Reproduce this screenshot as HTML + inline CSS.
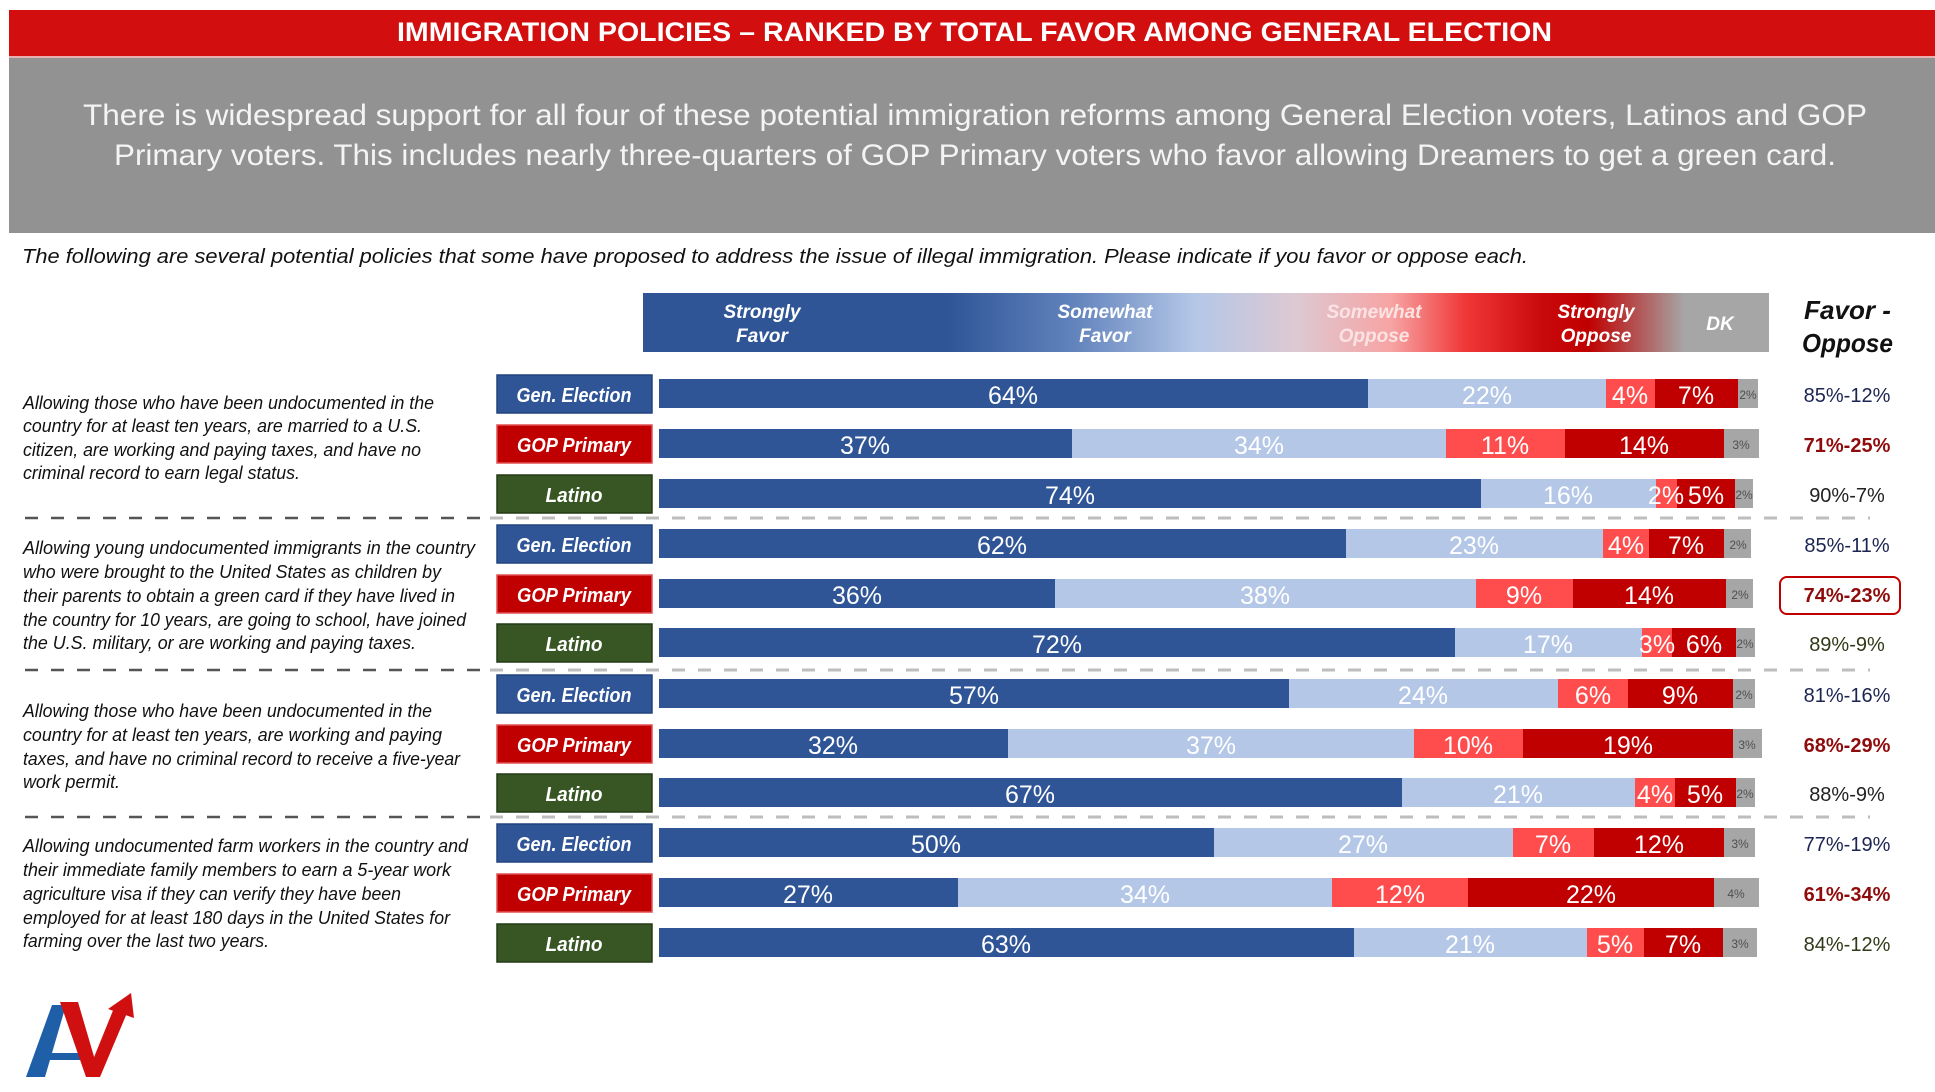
<!DOCTYPE html>
<html>
<head>
<meta charset="utf-8">
<style>
html,body{margin:0;padding:0;background:#fff;}
svg{display:block;}
text{font-family:"Liberation Sans",sans-serif;}
</style>
</head>
<body>
<svg width="1935" height="1092" viewBox="0 0 1935 1092" xmlns="http://www.w3.org/2000/svg">
<defs>
<linearGradient id="hg" x1="0" x2="1" y1="0" y2="0">
<stop offset="0" stop-color="#2f5597"/>
<stop offset="0.27" stop-color="#2f5597"/>
<stop offset="0.385" stop-color="#6384bd"/>
<stop offset="0.49" stop-color="#b4c7e7"/>
<stop offset="0.58" stop-color="#ddc9d2"/>
<stop offset="0.665" stop-color="#f7a3a3"/>
<stop offset="0.73" stop-color="#f03838"/>
<stop offset="0.80" stop-color="#c8080a"/>
<stop offset="0.84" stop-color="#c00000"/>
<stop offset="0.925" stop-color="#a6a6a6"/>
<stop offset="1" stop-color="#a6a6a6"/>
</linearGradient>
</defs>

<rect x="0" y="0" width="1935" height="1092" fill="#fff"/>

<!-- Title bar -->
<rect x="9" y="10" width="1926" height="46" fill="#d30e0e"/>
<text x="397" y="41" font-size="27" font-weight="bold" fill="#fff" textLength="1155" lengthAdjust="spacingAndGlyphs">IMMIGRATION POLICIES – RANKED BY TOTAL FAVOR AMONG GENERAL ELECTION</text>

<!-- Gray summary box -->
<rect x="9" y="56" width="1926" height="177" fill="#939292"/>
<rect x="9" y="56" width="1926" height="2" fill="#e8b0b0"/>
<text x="83" y="125" font-size="30" fill="#f4f4f4" textLength="1784" lengthAdjust="spacingAndGlyphs">There is widespread support for all four of these potential immigration reforms among General Election voters, Latinos and GOP</text>
<text x="114" y="165" font-size="30" fill="#f4f4f4" textLength="1722" lengthAdjust="spacingAndGlyphs">Primary voters.  This includes nearly three-quarters of GOP Primary voters who favor allowing Dreamers to get a green card.</text>

<!-- Question -->
<text x="22" y="263" font-size="20" font-style="italic" fill="#111" textLength="1506" lengthAdjust="spacingAndGlyphs">The following are several potential policies that some have proposed to address the issue of illegal immigration.  Please indicate if you favor or oppose each.</text>

<!-- Header gradient bar -->
<rect x="643" y="293" width="1126" height="59" fill="url(#hg)"/>
<g font-size="19" font-weight="bold" font-style="italic" text-anchor="middle" fill="#fff">
<text x="762" y="318">Strongly</text><text x="762" y="342">Favor</text>
<text x="1105" y="318">Somewhat</text><text x="1105" y="342">Favor</text>
<text x="1374" y="318" fill="#fbe3e3">Somewhat</text><text x="1374" y="342" fill="#fbe3e3">Oppose</text>
<text x="1596" y="318">Strongly</text><text x="1596" y="342">Oppose</text>
<text x="1720" y="330">DK</text>
</g>
<g font-size="26" font-weight="bold" font-style="italic" fill="#111">
<text x="1804" y="319" textLength="87" lengthAdjust="spacingAndGlyphs">Favor -</text>
<text x="1802" y="352" textLength="91" lengthAdjust="spacingAndGlyphs">Oppose</text>
</g>

<!-- Left question texts -->
<g font-size="18" font-style="italic" fill="#111">
<text x="23" y="409" textLength="411" lengthAdjust="spacingAndGlyphs">Allowing those who have been undocumented in the</text>
<text x="23" y="432" textLength="399" lengthAdjust="spacingAndGlyphs">country for at least ten years, are married to a U.S.</text>
<text x="23" y="456" textLength="398" lengthAdjust="spacingAndGlyphs">citizen, are working and paying taxes, and have no</text>
<text x="23" y="479" textLength="277" lengthAdjust="spacingAndGlyphs">criminal record to earn legal status.</text>

<text x="23" y="554" textLength="452" lengthAdjust="spacingAndGlyphs">Allowing young undocumented immigrants in the country</text>
<text x="23" y="578" textLength="418" lengthAdjust="spacingAndGlyphs">who were brought to the United States as children by</text>
<text x="23" y="602" textLength="432" lengthAdjust="spacingAndGlyphs">their parents to obtain a green card if they have lived in</text>
<text x="23" y="626" textLength="443" lengthAdjust="spacingAndGlyphs">the country for 10 years, are going to school, have joined</text>
<text x="23" y="649" textLength="393" lengthAdjust="spacingAndGlyphs">the U.S. military, or are working and paying taxes.</text>

<text x="23" y="717" textLength="409" lengthAdjust="spacingAndGlyphs">Allowing those who have been undocumented in the</text>
<text x="23" y="741" textLength="419" lengthAdjust="spacingAndGlyphs">country for at least ten years, are working and paying</text>
<text x="23" y="765" textLength="437" lengthAdjust="spacingAndGlyphs">taxes, and have no criminal record to receive a five-year</text>
<text x="23" y="788" textLength="97" lengthAdjust="spacingAndGlyphs">work permit.</text>

<text x="23" y="852" textLength="445" lengthAdjust="spacingAndGlyphs">Allowing undocumented farm workers in the country and</text>
<text x="23" y="876" textLength="428" lengthAdjust="spacingAndGlyphs">their immediate family members to earn a 5-year work</text>
<text x="23" y="900" textLength="378" lengthAdjust="spacingAndGlyphs">agriculture visa if they can verify they have been</text>
<text x="23" y="924" textLength="427" lengthAdjust="spacingAndGlyphs">employed for at least 180 days in the United States for</text>
<text x="23" y="947" textLength="246" lengthAdjust="spacingAndGlyphs">farming over the last two years.</text>
</g>

<!-- Dashed separators -->
<g fill="none">
<line x1="25" y1="518" x2="488" y2="518" stroke="#555" stroke-width="2.5" stroke-dasharray="13 13"/>
<line x1="490" y1="518" x2="1870" y2="518" stroke="#bdbdbd" stroke-width="3" stroke-dasharray="13 13"/>
<line x1="25" y1="670" x2="488" y2="670" stroke="#555" stroke-width="2.5" stroke-dasharray="13 13"/>
<line x1="490" y1="670" x2="1870" y2="670" stroke="#bdbdbd" stroke-width="3" stroke-dasharray="13 13"/>
<line x1="25" y1="817" x2="488" y2="817" stroke="#555" stroke-width="2.5" stroke-dasharray="13 13"/>
<line x1="490" y1="817" x2="1870" y2="817" stroke="#bdbdbd" stroke-width="3" stroke-dasharray="13 13"/>
</g>

<!-- Label boxes -->
<g font-size="20" font-weight="bold" font-style="italic" fill="#fff" text-anchor="middle">
<rect x="497" y="375" width="155" height="38" fill="#2f5597" stroke="#22447e" stroke-width="1.5"/><text x="574" y="402" textLength="115" lengthAdjust="spacingAndGlyphs">Gen. Election</text>
<rect x="497" y="425" width="155" height="38" fill="#c00000" stroke="#e05050" stroke-width="1.5"/><text x="574" y="452" textLength="114" lengthAdjust="spacingAndGlyphs">GOP Primary</text>
<rect x="497" y="475" width="155" height="38" fill="#375623" stroke="#243a17" stroke-width="1.5"/><text x="574" y="502" textLength="57" lengthAdjust="spacingAndGlyphs">Latino</text>

<rect x="497" y="525" width="155" height="38" fill="#2f5597" stroke="#22447e" stroke-width="1.5"/><text x="574" y="552" textLength="115" lengthAdjust="spacingAndGlyphs">Gen. Election</text>
<rect x="497" y="575" width="155" height="38" fill="#c00000" stroke="#e05050" stroke-width="1.5"/><text x="574" y="602" textLength="114" lengthAdjust="spacingAndGlyphs">GOP Primary</text>
<rect x="497" y="624" width="155" height="38" fill="#375623" stroke="#243a17" stroke-width="1.5"/><text x="574" y="651" textLength="57" lengthAdjust="spacingAndGlyphs">Latino</text>

<rect x="497" y="675" width="155" height="38" fill="#2f5597" stroke="#22447e" stroke-width="1.5"/><text x="574" y="702" textLength="115" lengthAdjust="spacingAndGlyphs">Gen. Election</text>
<rect x="497" y="725" width="155" height="38" fill="#c00000" stroke="#e05050" stroke-width="1.5"/><text x="574" y="752" textLength="114" lengthAdjust="spacingAndGlyphs">GOP Primary</text>
<rect x="497" y="774" width="155" height="38" fill="#375623" stroke="#243a17" stroke-width="1.5"/><text x="574" y="801" textLength="57" lengthAdjust="spacingAndGlyphs">Latino</text>

<rect x="497" y="824" width="155" height="38" fill="#2f5597" stroke="#22447e" stroke-width="1.5"/><text x="574" y="851" textLength="115" lengthAdjust="spacingAndGlyphs">Gen. Election</text>
<rect x="497" y="874" width="155" height="38" fill="#c00000" stroke="#e05050" stroke-width="1.5"/><text x="574" y="901" textLength="114" lengthAdjust="spacingAndGlyphs">GOP Primary</text>
<rect x="497" y="924" width="155" height="38" fill="#375623" stroke="#243a17" stroke-width="1.5"/><text x="574" y="951" textLength="57" lengthAdjust="spacingAndGlyphs">Latino</text>
</g>

<!-- Bars -->
<g>
<rect x="659" y="379" width="709" height="29" fill="#2f5597"/>
<rect x="1368" y="379" width="238" height="29" fill="#b4c7e7"/>
<rect x="1606" y="379" width="49" height="29" fill="#ff4d4d"/>
<rect x="1655" y="379" width="83" height="29" fill="#c00000"/>
<rect x="1738" y="379" width="20" height="29" fill="#a6a6a6"/>

<rect x="659" y="429" width="413" height="29" fill="#2f5597"/>
<rect x="1072" y="429" width="374" height="29" fill="#b4c7e7"/>
<rect x="1446" y="429" width="119" height="29" fill="#ff4d4d"/>
<rect x="1565" y="429" width="159" height="29" fill="#c00000"/>
<rect x="1724" y="429" width="35" height="29" fill="#a6a6a6"/>

<rect x="659" y="479" width="822" height="29" fill="#2f5597"/>
<rect x="1481" y="479" width="175" height="29" fill="#b4c7e7"/>
<rect x="1656" y="479" width="21" height="29" fill="#ff4d4d"/>
<rect x="1677" y="479" width="58" height="29" fill="#c00000"/>
<rect x="1735" y="479" width="18" height="29" fill="#a6a6a6"/>

<rect x="659" y="529" width="687" height="29" fill="#2f5597"/>
<rect x="1346" y="529" width="257" height="29" fill="#b4c7e7"/>
<rect x="1603" y="529" width="46" height="29" fill="#ff4d4d"/>
<rect x="1649" y="529" width="75" height="29" fill="#c00000"/>
<rect x="1724" y="529" width="27" height="29" fill="#a6a6a6"/>

<rect x="659" y="579" width="396" height="29" fill="#2f5597"/>
<rect x="1055" y="579" width="421" height="29" fill="#b4c7e7"/>
<rect x="1476" y="579" width="97" height="29" fill="#ff4d4d"/>
<rect x="1573" y="579" width="153" height="29" fill="#c00000"/>
<rect x="1726" y="579" width="27" height="29" fill="#a6a6a6"/>

<rect x="659" y="628" width="796" height="29" fill="#2f5597"/>
<rect x="1455" y="628" width="187" height="29" fill="#b4c7e7"/>
<rect x="1642" y="628" width="30" height="29" fill="#ff4d4d"/>
<rect x="1672" y="628" width="64" height="29" fill="#c00000"/>
<rect x="1736" y="628" width="19" height="29" fill="#a6a6a6"/>

<rect x="659" y="679" width="630" height="29" fill="#2f5597"/>
<rect x="1289" y="679" width="269" height="29" fill="#b4c7e7"/>
<rect x="1558" y="679" width="70" height="29" fill="#ff4d4d"/>
<rect x="1628" y="679" width="105" height="29" fill="#c00000"/>
<rect x="1733" y="679" width="22" height="29" fill="#a6a6a6"/>

<rect x="659" y="729" width="349" height="29" fill="#2f5597"/>
<rect x="1008" y="729" width="406" height="29" fill="#b4c7e7"/>
<rect x="1414" y="729" width="109" height="29" fill="#ff4d4d"/>
<rect x="1523" y="729" width="210" height="29" fill="#c00000"/>
<rect x="1733" y="729" width="29" height="29" fill="#a6a6a6"/>

<rect x="659" y="778" width="743" height="29" fill="#2f5597"/>
<rect x="1402" y="778" width="233" height="29" fill="#b4c7e7"/>
<rect x="1635" y="778" width="40" height="29" fill="#ff4d4d"/>
<rect x="1675" y="778" width="61" height="29" fill="#c00000"/>
<rect x="1736" y="778" width="19" height="29" fill="#a6a6a6"/>

<rect x="659" y="828" width="555" height="29" fill="#2f5597"/>
<rect x="1214" y="828" width="299" height="29" fill="#b4c7e7"/>
<rect x="1513" y="828" width="81" height="29" fill="#ff4d4d"/>
<rect x="1594" y="828" width="130" height="29" fill="#c00000"/>
<rect x="1724" y="828" width="31" height="29" fill="#a6a6a6"/>

<rect x="659" y="878" width="299" height="29" fill="#2f5597"/>
<rect x="958" y="878" width="374" height="29" fill="#b4c7e7"/>
<rect x="1332" y="878" width="136" height="29" fill="#ff4d4d"/>
<rect x="1468" y="878" width="246" height="29" fill="#c00000"/>
<rect x="1714" y="878" width="45" height="29" fill="#a6a6a6"/>

<rect x="659" y="928" width="695" height="29" fill="#2f5597"/>
<rect x="1354" y="928" width="233" height="29" fill="#b4c7e7"/>
<rect x="1587" y="928" width="57" height="29" fill="#ff4d4d"/>
<rect x="1644" y="928" width="79" height="29" fill="#c00000"/>
<rect x="1723" y="928" width="34" height="29" fill="#a6a6a6"/>
</g>

<!-- Bar labels -->
<g font-size="25" fill="#fff" text-anchor="middle">
<text x="1013" y="404">64%</text><text x="1487" y="404">22%</text><text x="1630" y="404">4%</text><text x="1696" y="404">7%</text>
<text x="865" y="454">37%</text><text x="1259" y="454">34%</text><text x="1505" y="454">11%</text><text x="1644" y="454">14%</text>
<text x="1070" y="504">74%</text><text x="1568" y="504">16%</text><text x="1666" y="504">2%</text><text x="1706" y="504">5%</text>
<text x="1002" y="554">62%</text><text x="1474" y="554">23%</text><text x="1626" y="554">4%</text><text x="1686" y="554">7%</text>
<text x="857" y="604">36%</text><text x="1265" y="604">38%</text><text x="1524" y="604">9%</text><text x="1649" y="604">14%</text>
<text x="1057" y="653">72%</text><text x="1548" y="653">17%</text><text x="1657" y="653">3%</text><text x="1704" y="653">6%</text>
<text x="974" y="704">57%</text><text x="1423" y="704">24%</text><text x="1593" y="704">6%</text><text x="1680" y="704">9%</text>
<text x="833" y="754">32%</text><text x="1211" y="754">37%</text><text x="1468" y="754">10%</text><text x="1628" y="754">19%</text>
<text x="1030" y="803">67%</text><text x="1518" y="803">21%</text><text x="1655" y="803">4%</text><text x="1705" y="803">5%</text>
<text x="936" y="853">50%</text><text x="1363" y="853">27%</text><text x="1553" y="853">7%</text><text x="1659" y="853">12%</text>
<text x="808" y="903">27%</text><text x="1145" y="903">34%</text><text x="1400" y="903">12%</text><text x="1591" y="903">22%</text>
<text x="1006" y="953">63%</text><text x="1470" y="953">21%</text><text x="1615" y="953">5%</text><text x="1683" y="953">7%</text>
</g>
<g font-size="12" fill="#505050" text-anchor="middle">
<text x="1748" y="399">2%</text>
<text x="1741" y="449">3%</text>
<text x="1744" y="499">2%</text>
<text x="1738" y="549">2%</text>
<text x="1740" y="599">2%</text>
<text x="1745" y="648">2%</text>
<text x="1744" y="699">2%</text>
<text x="1747" y="749">3%</text>
<text x="1745" y="798">2%</text>
<text x="1740" y="848">3%</text>
<text x="1736" y="898">4%</text>
<text x="1740" y="948">3%</text>
</g>

<!-- Favor - Oppose values -->
<rect x="1780" y="577" width="120" height="37" rx="7" ry="7" fill="#fff" stroke="#c00000" stroke-width="2"/>
<g font-size="20" text-anchor="middle">
<text x="1847" y="402" fill="#1c2452">85%-12%</text>
<text x="1847" y="452" fill="#8f0c0c" font-weight="bold">71%-25%</text>
<text x="1847" y="502" fill="#222">90%-7%</text>
<text x="1847" y="552" fill="#1c2452">85%-11%</text>
<text x="1847" y="602" fill="#8f0c0c" font-weight="bold">74%-23%</text>
<text x="1847" y="651" fill="#303a18">89%-9%</text>
<text x="1847" y="702" fill="#1c2452">81%-16%</text>
<text x="1847" y="752" fill="#8f0c0c" font-weight="bold">68%-29%</text>
<text x="1847" y="801" fill="#222">88%-9%</text>
<text x="1847" y="851" fill="#1c2452">77%-19%</text>
<text x="1847" y="901" fill="#8f0c0c" font-weight="bold">61%-34%</text>
<text x="1847" y="951" fill="#303a18">84%-12%</text>
</g>

<!-- Logo -->
<g>
<polygon points="26,1077 45,1077 66,1005 52,1005" fill="#1f5fa8"/>
<rect x="40" y="1053" width="42" height="7" fill="#1f5fa8"/>
<polygon points="60,1002 78,1002 100,1077 86,1077" fill="#d01010"/>
<polygon points="86,1077 100,1077 127,1013 114,1008" fill="#d01010"/>
<polygon points="108,1009 131,993 134,1018" fill="#d01010"/>
</g>
</svg>
</body>
</html>
